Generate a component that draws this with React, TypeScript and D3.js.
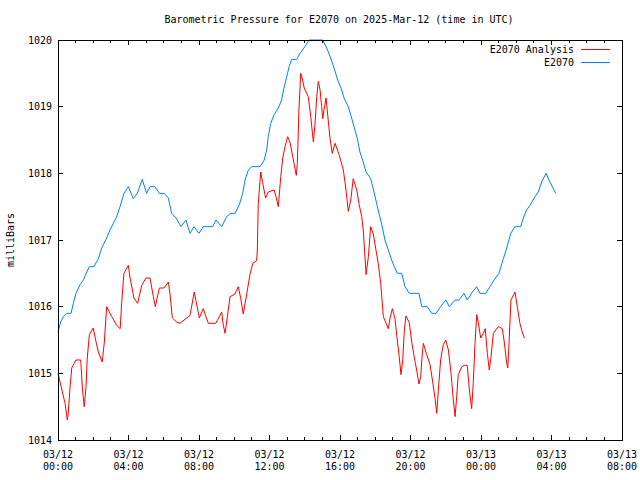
import React from 'react';
import * as d3 from 'd3';

// hours since 03/12 00:00 UTC, pressure in millibars
const analysisHours = [
  0.0, 0.4, 0.53, 0.58, 0.68, 0.78, 1.02, 1.29, 1.38, 1.49, 1.59, 1.66, 1.78, 2.0, 2.16, 2.29, 2.51, 2.63, 2.76,
  3.05, 3.33, 3.53, 3.61, 3.74, 3.99, 4.09, 4.31, 4.52, 4.75, 4.99, 5.22, 5.41, 5.52, 5.75, 6.01, 6.26, 6.35,
  6.49, 6.73, 6.92, 7.49, 7.73, 8.02, 8.24, 8.53, 8.95, 9.29, 9.38, 9.48, 9.61, 9.76, 10.04, 10.23, 10.37, 10.51,
  10.67, 10.89, 11.05, 11.27, 11.31, 11.36, 11.5, 11.61, 11.78, 11.93, 12.26, 12.37, 12.5, 12.64, 12.75, 12.88,
  13.03, 13.16, 13.32, 13.39, 13.52, 13.58, 13.67, 13.77, 13.88, 13.97, 14.2, 14.34, 14.49, 14.58, 14.68, 14.77,
  14.87, 14.96, 15.02, 15.09, 15.21, 15.32, 15.43, 15.56, 15.72, 15.96, 16.19, 16.34, 16.47, 16.61, 16.75, 16.95,
  17.09, 17.23, 17.32, 17.48, 17.61, 17.74, 17.89, 18.04, 18.17, 18.31, 18.46, 18.74, 18.84, 18.97, 19.12, 19.25,
  19.36, 19.46, 19.56, 19.65, 19.74, 19.93, 20.07, 20.22, 20.35, 20.48, 20.58, 20.64, 20.73, 20.92, 21.11, 21.26,
  21.39, 21.49, 21.58, 21.71, 21.86, 22.0, 22.15, 22.3, 22.43, 22.53, 22.62, 22.71, 22.91, 23.05, 23.22, 23.34,
  23.47, 23.56, 23.66, 23.76, 23.85, 23.98, 24.13, 24.24, 24.36, 24.47, 24.57, 24.7, 24.98, 25.21, 25.32, 25.46,
  25.52, 25.59, 25.7, 25.93, 26.06, 26.21, 26.34, 26.46,
];
const analysisMb = [
  1015.0, 1014.55, 1014.3, 1014.4, 1014.78, 1015.08, 1015.2, 1015.2, 1014.78, 1014.5, 1014.8, 1015.23, 1015.58,
  1015.68, 1015.47, 1015.32, 1015.17, 1015.47, 1016.0, 1015.85, 1015.72, 1015.67, 1016.05, 1016.5, 1016.62,
  1016.43, 1016.13, 1016.05, 1016.32, 1016.43, 1016.43, 1016.15, 1016.0, 1016.28, 1016.28, 1016.37, 1016.2,
  1015.83, 1015.77, 1015.75, 1015.87, 1016.22, 1015.83, 1015.97, 1015.75, 1015.75, 1015.92, 1015.72, 1015.6,
  1015.85, 1016.15, 1016.19, 1016.3, 1016.12, 1015.89, 1016.13, 1016.48, 1016.65, 1016.69, 1016.85, 1017.53,
  1018.02, 1017.86, 1017.63, 1017.72, 1017.75, 1017.65, 1017.5, 1017.95, 1018.23, 1018.4, 1018.55, 1018.47,
  1018.25, 1018.15, 1017.97, 1018.15, 1018.95, 1019.5, 1019.4, 1019.28, 1019.15, 1018.85, 1018.47, 1018.73,
  1019.15, 1019.38, 1019.25, 1019.0, 1018.82, 1018.95, 1019.13, 1018.83, 1018.53, 1018.3, 1018.45, 1018.27,
  1018.05, 1017.75, 1017.43, 1017.6, 1017.92, 1017.75, 1017.53, 1017.35, 1017.15, 1016.48, 1016.75, 1017.2,
  1017.09, 1016.85, 1016.65, 1016.35, 1015.85, 1015.67, 1015.83, 1015.97, 1015.82, 1015.5, 1015.25, 1014.98,
  1015.2, 1015.65, 1015.86, 1015.76, 1015.47, 1015.23, 1015.05, 1014.84, 1014.95, 1015.2, 1015.45, 1015.28,
  1015.13, 1014.87, 1014.63, 1014.4, 1014.75, 1015.2, 1015.43, 1015.5, 1015.35, 1015.0, 1014.6, 1014.35,
  1014.65, 1014.98, 1015.1, 1015.12, 1015.12, 1014.75, 1014.47, 1014.85, 1015.45, 1015.88, 1015.76, 1015.53,
  1015.6, 1015.67, 1015.3, 1015.05, 1015.25, 1015.6, 1015.7, 1015.67, 1015.47, 1015.15, 1015.08, 1015.45,
  1016.1, 1016.22, 1016.0, 1015.75, 1015.62, 1015.53,
];

const stationHours = [
  0.0, 0.15, 0.3, 0.49, 0.74, 0.87, 1.02, 1.25, 1.44, 1.63, 1.78, 2.04, 2.29, 2.48, 2.76, 2.95, 3.14, 3.33, 3.52,
  3.74, 3.99, 4.27, 4.5, 4.78, 5.03, 5.22, 5.5, 5.75, 6.03, 6.26, 6.45, 6.7, 6.98, 7.26, 7.49, 7.72, 8.0, 8.24,
  8.78, 8.96, 9.29, 9.57, 9.8, 10.04, 10.29, 10.48, 10.61, 10.8, 10.99, 11.46, 11.7, 11.84, 11.93, 12.07, 12.26,
  12.5, 12.69, 12.82, 12.98, 13.11, 13.26, 13.54, 13.73, 14.01, 14.24, 15.02, 15.25, 15.47, 15.66, 15.87, 16.1,
  16.23, 16.47, 16.66, 16.85, 17.0, 17.13, 17.32, 17.48, 17.74, 17.93, 18.12, 18.37, 18.55, 18.74, 18.93, 19.08,
  19.25, 19.5, 19.69, 19.93, 20.48, 20.64, 20.95, 21.2, 21.45, 21.71, 22.0, 22.2, 22.53, 22.75, 23.04, 23.22,
  23.51, 23.76, 23.94, 24.27, 24.51, 24.74, 25.02, 25.27, 25.46, 25.69, 25.93, 26.25, 26.4, 26.59, 26.78, 27.06,
  27.25, 27.44, 27.69, 27.91, 28.24,
];
const stationMb = [
  1015.62, 1015.77, 1015.85, 1015.9, 1015.9, 1016.05, 1016.2, 1016.33, 1016.4, 1016.52, 1016.6, 1016.6, 1016.72,
  1016.88, 1017.03, 1017.15, 1017.25, 1017.35, 1017.5, 1017.7, 1017.8, 1017.62, 1017.7, 1017.91, 1017.7, 1017.8,
  1017.8, 1017.7, 1017.7, 1017.63, 1017.4, 1017.33, 1017.2, 1017.3, 1017.1, 1017.2, 1017.1, 1017.2, 1017.2,
  1017.3, 1017.2, 1017.35, 1017.4, 1017.4, 1017.53, 1017.7, 1017.9, 1018.05, 1018.1, 1018.1, 1018.2, 1018.35,
  1018.55, 1018.75, 1018.88, 1018.98, 1019.1, 1019.28, 1019.45, 1019.6, 1019.71, 1019.71, 1019.8, 1019.9, 1020.0,
  1020.0, 1019.88, 1019.73, 1019.58, 1019.4, 1019.25, 1019.13, 1019.0, 1018.83, 1018.65, 1018.5, 1018.32, 1018.17,
  1018.02, 1017.92, 1017.72, 1017.5, 1017.23, 1017.0, 1016.85, 1016.7, 1016.6, 1016.5, 1016.5, 1016.3, 1016.2,
  1016.2, 1016.0, 1016.0, 1015.9, 1015.9, 1016.0, 1016.1, 1016.0, 1016.1, 1016.1, 1016.2, 1016.1, 1016.22, 1016.3,
  1016.2, 1016.2, 1016.3, 1016.4, 1016.5, 1016.72, 1016.88, 1017.1, 1017.2, 1017.2, 1017.33, 1017.45, 1017.52,
  1017.65, 1017.72, 1017.87, 1018.0, 1017.87, 1017.7,
];

const yTicks = [1014, 1015, 1016, 1017, 1018, 1019, 1020];
const xTickHours = [0, 4, 8, 12, 16, 20, 24, 28, 32];
const xTickDates = ['03/12', '03/12', '03/12', '03/12', '03/12', '03/12', '03/13', '03/13', '03/13'];
const xTickTimes = ['00:00', '04:00', '08:00', '12:00', '16:00', '20:00', '00:00', '04:00', '08:00'];

const W = 640;
const H = 480;
const margin = { top: 40, right: 18, bottom: 40, left: 58 };
const font = '"DejaVu Sans Mono", monospace';

const App: React.FC = () => {
  const x = d3.scaleLinear().domain([0, 32]).range([margin.left, W - margin.right]);
  const y = d3.scaleLinear().domain([1014, 1020]).range([H - margin.bottom, margin.top]);
  const top = margin.top;
  const bottom = H - margin.bottom;
  const left = margin.left;
  const right = W - margin.right;

  const makePath = (hours: number[], vals: number[]) =>
    d3
      .line<number>()
      .x((h) => x(h))
      .y((_, i) => y(vals[i]))(hours) || '';

  // one minor tick per hour, major every 4 hours
  const minorHours = d3.range(0, 33);

  return (
    <svg width={W} height={H} style={{ position: 'absolute', left: 0, top: 0, background: '#fff' }}>
      <rect x={0} y={0} width={W} height={H} fill="#fff" />
      <g fontFamily={font} fontSize={10} fill="#000">
        <text x={339} y={23} textAnchor="middle">
          Barometric Pressure for E2070 on 2025-Mar-12 (time in UTC)
        </text>
        <text transform={`translate(14,${(top + bottom) / 2}) rotate(-90)`} textAnchor="middle">
          milliBars
        </text>
        {yTicks.map((t) => (
          <text key={t} x={left - 6} y={y(t) + 3.5} textAnchor="end">
            {t}
          </text>
        ))}
        {xTickHours.map((h, i) => (
          <g key={h}>
            <text x={x(h)} y={bottom + 18} textAnchor="middle">
              {xTickDates[i]}
            </text>
            <text x={x(h)} y={bottom + 30} textAnchor="middle">
              {xTickTimes[i]}
            </text>
          </g>
        ))}
      </g>

      <g stroke="#000" strokeWidth={1} shapeRendering="crispEdges">
        {minorHours.map((h) => {
          const len = h % 4 === 0 ? 5 : 3;
          return (
            <g key={h}>
              <line x1={x(h)} x2={x(h)} y1={bottom} y2={bottom - len} />
              <line x1={x(h)} x2={x(h)} y1={top} y2={top + len} />
            </g>
          );
        })}
        {yTicks.map((t) => (
          <g key={t}>
            <line x1={left} x2={left + 5} y1={y(t)} y2={y(t)} />
            <line x1={right} x2={right - 5} y1={y(t)} y2={y(t)} />
          </g>
        ))}
      </g>

      <path d={makePath(analysisHours, analysisMb)} fill="none" stroke="#ff0000" strokeWidth={1} />
      <path d={makePath(stationHours, stationMb)} fill="none" stroke="#0080ff" strokeWidth={1} />

      <rect
        x={left}
        y={top}
        width={right - left}
        height={bottom - top}
        fill="none"
        stroke="#000"
        strokeWidth={1}
        shapeRendering="crispEdges"
      />

      <g fontFamily={font} fontSize={10} fill="#000">
        <text x={574} y={53} textAnchor="end">
          E2070 Analysis
        </text>
        <text x={574} y={66} textAnchor="end">
          E2070
        </text>
      </g>
      <line x1={581} x2={610} y1={49.5} y2={49.5} stroke="#ff0000" strokeWidth={1} />
      <line x1={581} x2={610} y1={62.5} y2={62.5} stroke="#0080ff" strokeWidth={1} />
    </svg>
  );
};

export default App;
